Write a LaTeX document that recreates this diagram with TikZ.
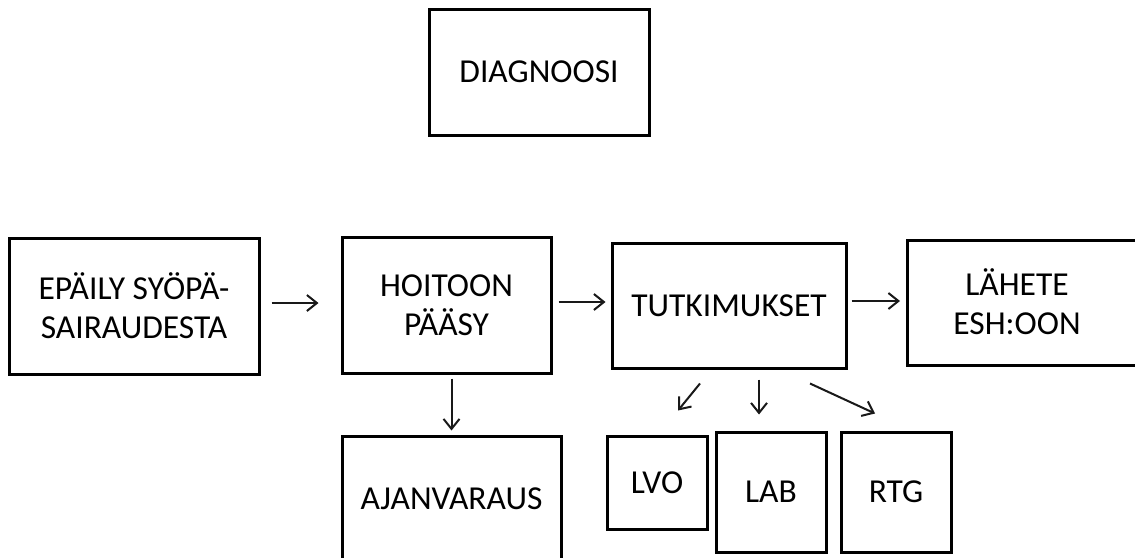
\documentclass[tikz,border=0pt]{standalone}
\usepackage{fontspec}
\setmainfont{Carlito}
\usetikzlibrary{arrows.meta}
\tikzset{
  box/.style={draw=black, line width=3pt, rectangle, inner sep=0pt, align=center,
              font=\fontsize{33.5}{39}\selectfont},
  txt/.style={inner sep=0pt, align=center, font=\fontsize{33.5}{39}\selectfont},
  arr/.style={draw=black!90, line width=2pt, -{Straight Barb[length=10pt,width=16pt,line width=2pt]}}
}
\begin{document}
\begin{tikzpicture}[x=1pt,y=-1pt]
\useasboundingbox (0,0) rectangle (1135,557);
\fill[white] (0,0) rectangle (1135,557);
\clip (0,0) rectangle (1135,557);

\node[box, minimum width=220pt, minimum height=126pt] (diag) at (539,72) {DIAGNOOSI};
\node[box, minimum width=250pt, minimum height=136pt] (epaily) at (134,306) {EPÄILY SYÖPÄ-\\SAIRAUDESTA};
\node[box, minimum width=209pt, minimum height=136pt] (hoitoon) at (446.5,305) {HOITOON\\PÄÄSY};
\node[box, minimum width=234pt, minimum height=125pt] (tutk) at (729,305.5) {TUTKIMUKSET};
\node[box, minimum width=250pt, minimum height=125pt, anchor=west] (lahete) at (906,302.5) {};
\node[txt] (lahetetxt) at (1017,302) {LÄHETE\\ESH:OON};
\node[box, minimum width=219pt, minimum height=126pt] (ajan) at (451.5,499) {AJANVARAUS};
\node[box, minimum width=100pt, minimum height=93pt] (lvo) at (657,482.5) {LVO};
\node[box, minimum width=110pt, minimum height=120pt] (lab) at (771,492) {LAB};
\node[box, minimum width=110pt, minimum height=120pt] (rtg) at (896,492) {RTG};

\draw[arr] ([shift={(11,-3)}]epaily.east) -- ([shift={(-22,-3)}]epaily.east -| hoitoon.west);
\draw[arr] ([shift={(6,-3)}]hoitoon.east) -- ([shift={(-5,-3)}]hoitoon.east -| tutk.west);
\draw[arr] ([shift={(4,-4.5)}]tutk.east) -- ([shift={(-6,-4.5)}]tutk.east -| lahete.west);
\draw[arr] ([yshift=-4pt]hoitoon.south -| ajan.north) -- ([yshift=4pt]ajan.north);
\draw[arr] ([shift={(-29,14)}]tutk.south) -- ([shift={(-51,41)}]tutk.south);
\draw[arr] ([shift={(30,10)}]tutk.south) -- ([shift={(30,45)}]tutk.south);
\draw[arr] ([shift={(81,14)}]tutk.south) -- ([shift={(146,44)}]tutk.south);
\end{tikzpicture}
\end{document}
